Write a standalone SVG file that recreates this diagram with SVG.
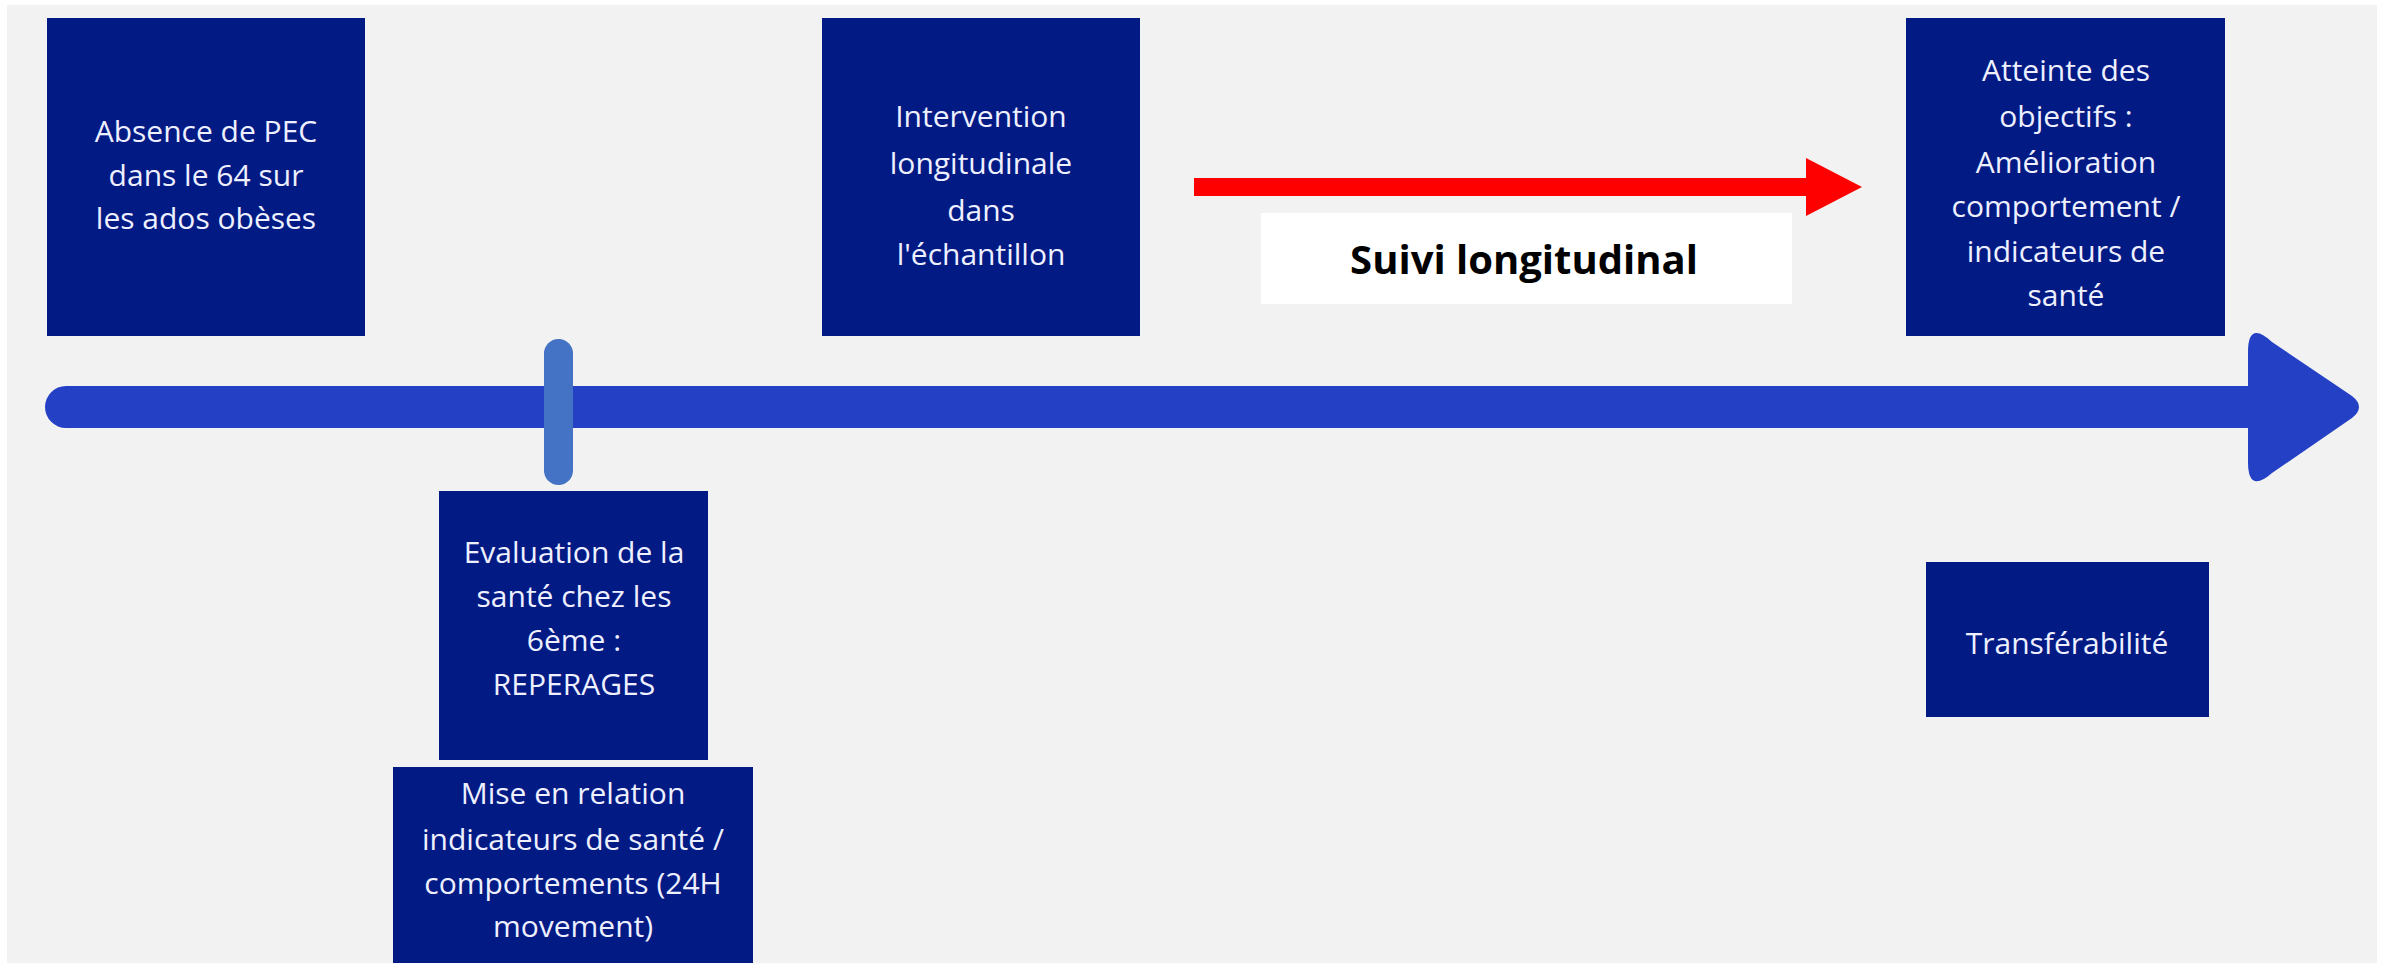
<svg xmlns="http://www.w3.org/2000/svg" width="2382" height="963" viewBox="0 0 2382 963">
<style>
.box{fill:#021a84;}
.t{font-family:"Open Sans",Lato,"Liberation Sans",sans-serif;font-size:30px;fill:#eef0ff;text-anchor:middle;}
.lbl{font-family:"Open Sans","Liberation Sans",sans-serif;font-weight:bold;font-size:40px;fill:#000;text-anchor:middle;}
</style>
<rect x="0" y="0" width="2382" height="963" fill="#ffffff"/>
<rect x="7" y="5" width="2370" height="958" fill="#f2f2f2"/>
<g id="connectors">
  <path d="M 66 386 L 2248 386 L 2248 352 Q 2248 320 2272 342 L 2352 396 Q 2366 407 2352 418 L 2272 473 Q 2248 494 2248 462 L 2248 428 L 66 428 A 21 21 0 0 1 66 386 Z" fill="#2441c6"/>
  <rect x="544" y="339" width="29" height="146" rx="14.5" fill="#4472c4"/>
  <polygon points="1194,178 1806,178 1806,158 1862,187 1806,216 1806,196 1194,196" fill="#ff0000"/>
</g>
<g id="n1"><rect class="box" x="47" y="18" width="318" height="318"/>
<text class="t" x="206" y="142">Absence de PEC</text><text class="t" x="206" y="186">dans le 64 sur</text><text class="t" x="206" y="229">les ados obèses</text></g>
<g id="n2"><rect class="box" x="822" y="18" width="318" height="318"/>
<text class="t" x="981" y="127">Intervention</text><text class="t" x="981" y="174">longitudinale</text><text class="t" x="981" y="221">dans</text><text class="t" x="981" y="265">l'échantillon</text></g>
<g id="n3"><rect class="box" x="1906" y="18" width="319" height="318"/>
<text class="t" x="2066" y="81">Atteinte des</text><text class="t" x="2066" y="127">objectifs :</text><text class="t" x="2066" y="173">Amélioration</text><text class="t" x="2066" y="217">comportement /</text><text class="t" x="2066" y="262">indicateurs de</text><text class="t" x="2066" y="306">santé</text></g>
<g id="lbl"><rect x="1261" y="213" width="531" height="91" fill="#ffffff"/>
<text class="lbl" x="1524" y="274">Suivi longitudinal</text></g>
<g id="n4"><rect class="box" x="439" y="491" width="269" height="269"/>
<text class="t" x="574" y="563">Evaluation de la</text><text class="t" x="574" y="607">santé chez les</text><text class="t" x="574" y="651">6ème :</text><text class="t" x="574" y="695">REPERAGES</text></g>
<g id="n5"><rect class="box" x="393" y="767" width="360" height="200"/>
<text class="t" x="573" y="804">Mise en relation</text><text class="t" x="573" y="850">indicateurs de santé /</text><text class="t" x="573" y="894">comportements (24H</text><text class="t" x="573" y="937">movement)</text></g>
<g id="n6"><rect class="box" x="1926" y="562" width="283" height="155"/>
<text class="t" x="2067" y="654">Transférabilité</text></g>
</svg>
